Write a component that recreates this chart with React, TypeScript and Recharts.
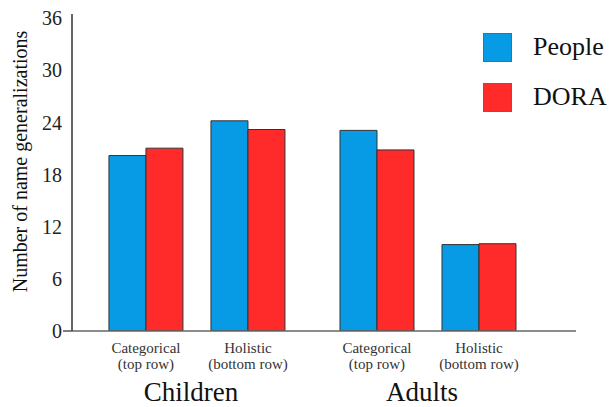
import { Bar, BarChart, Legend, XAxis, YAxis } from "recharts";

const groups = ["Children", "Adults"];
const conditions = [
  ["Categorical", "(top row)"],
  ["Holistic", "(bottom row)"],
];
const seriesNames = ["People", "DORA"];
const peopleValues = [20.2, 24.2, 23.1, 9.95];
const doraValues = [21.05, 23.2, 20.85, 10.05];
const yTicks = [0, 6, 12, 18, 24, 30, 36];

const SERIF = "Liberation Serif, Tinos, DejaVu Serif, serif";
const BLUE = "#069be4";
const RED = "#ff2a2a";
const seriesColors = [BLUE, RED];
const GROUP_STEP = 2.265;

// one row per bar pair, x is a numeric slot so the two groups can sit further apart
const data = groups.flatMap((group, g) =>
  conditions.map((cond, c) => ({
    x: g * GROUP_STEP + c,
    group,
    label: cond,
    people: peopleValues[g * conditions.length + c],
    dora: doraValues[g * conditions.length + c],
  }))
);
const barTicks = data.map((d) => d.x);
const groupTicks = groups.map((_, g) => g * GROUP_STEP + (conditions.length - 1) / 2);
const domain: [number, number] = [-0.725, 4.216];

function YTick(props: any) {
  const { x, y, payload } = props;
  return (
    <g>
      <text x={x} y={y} dy="0.35em" textAnchor="end" style={{ fontFamily: SERIF }} fontSize={20} fill="#222">
        {payload.value}
      </text>
      {payload.value === 0 && <line x1={x + 1} x2={x + 10} y1={y} y2={y} stroke="#555" strokeWidth={1.5} />}
    </g>
  );
}

function CondTick(props: any) {
  const { x, y, payload } = props;
  const row = data.find((d) => Math.abs(d.x - payload.value) < 1e-6);
  if (!row) return null;
  return (
    <text x={x} y={y} textAnchor="middle" style={{ fontFamily: SERIF }} fontSize={15} fill="#333">
      <tspan x={x} dy={20}>{row.label[0]}</tspan>
      <tspan x={x} dy={16}>{row.label[1]}</tspan>
    </text>
  );
}

function GroupTick(props: any) {
  const { x, y, payload } = props;
  const idx = groupTicks.findIndex((t) => Math.abs(t - payload.value) < 1e-6);
  if (idx < 0) return null;
  return (
    <text x={x - 6} y={y} dy={23} textAnchor="middle" style={{ fontFamily: SERIF }} fontSize={27} fill="#111">
      {groups[idx]}
    </text>
  );
}

function LegendBox() {
  return (
    <div style={{ fontFamily: SERIF, fontSize: 26, color: "#111" }}>
      {seriesNames.map((name, i) => (
        <div key={name} style={{ display: "flex", alignItems: "center", height: 50 }}>
          <span
            style={{
              width: 27,
              height: 27,
              background: seriesColors[i],
              border: "1px solid #666",
              display: "inline-block",
            }}
          />
          <span style={{ marginLeft: 21 }}>{name}</span>
        </div>
      ))}
    </div>
  );
}

function YLabel(props: any) {
  const { viewBox } = props;
  const cx = viewBox.x + 20;
  const cy = viewBox.y + viewBox.height / 2 - 11;
  return (
    <text
      x={cx}
      y={cy}
      transform={`rotate(-90 ${cx} ${cy})`}
      textAnchor="middle"
      dominantBaseline="central"
      style={{ fontFamily: SERIF }}
      fontSize={20}
      fill="#111"
    >
      Number of name generalizations
    </text>
  );
}

export default function App() {
  return (
    <div style={{ position: "absolute", left: 0, top: 0, background: "#fff" }}>
      <BarChart
        width={613}
        height={407}
        data={data}
        barGap={0}
        margin={{ top: 14, right: 37, bottom: 0, left: 0 }}
      >
        <XAxis
          dataKey="x"
          type="number"
          domain={domain}
          allowDataOverflow
          ticks={barTicks}
          tick={<CondTick />}
          tickLine={false}
          tickSize={0}
          height={45}
          stroke="#666"
          strokeWidth={1.5}
          interval={0}
        />
        <XAxis
          xAxisId="group"
          dataKey="x"
          type="number"
          domain={domain}
          allowDataOverflow
          ticks={groupTicks}
          tick={<GroupTick />}
          axisLine={false}
          tickLine={false}
          tickSize={0}
          height={31}
          interval={0}
        />
        <YAxis
          type="number"
          domain={[0, 36.5]}
          ticks={yTicks}
          allowDataOverflow
          width={72}
          tick={<YTick />}
          tickLine={false}
          tickSize={0}
          tickMargin={10}
          stroke="#333"
          strokeWidth={1.5}
          interval={0}
          label={<YLabel />}
        />
        <Legend
          layout="vertical"
          align="center"
          verticalAlign="middle"
          content={<LegendBox />}
          wrapperStyle={{ left: 483, top: 22, width: 130 }}
        />
        <Bar dataKey="people" name="People" fill={BLUE} stroke="#333" strokeWidth={1} barSize={37} isAnimationActive={false} />
        <Bar dataKey="dora" name="DORA" fill={RED} stroke="#333" strokeWidth={1} barSize={37} isAnimationActive={false} />
      </BarChart>
    </div>
  );
}
